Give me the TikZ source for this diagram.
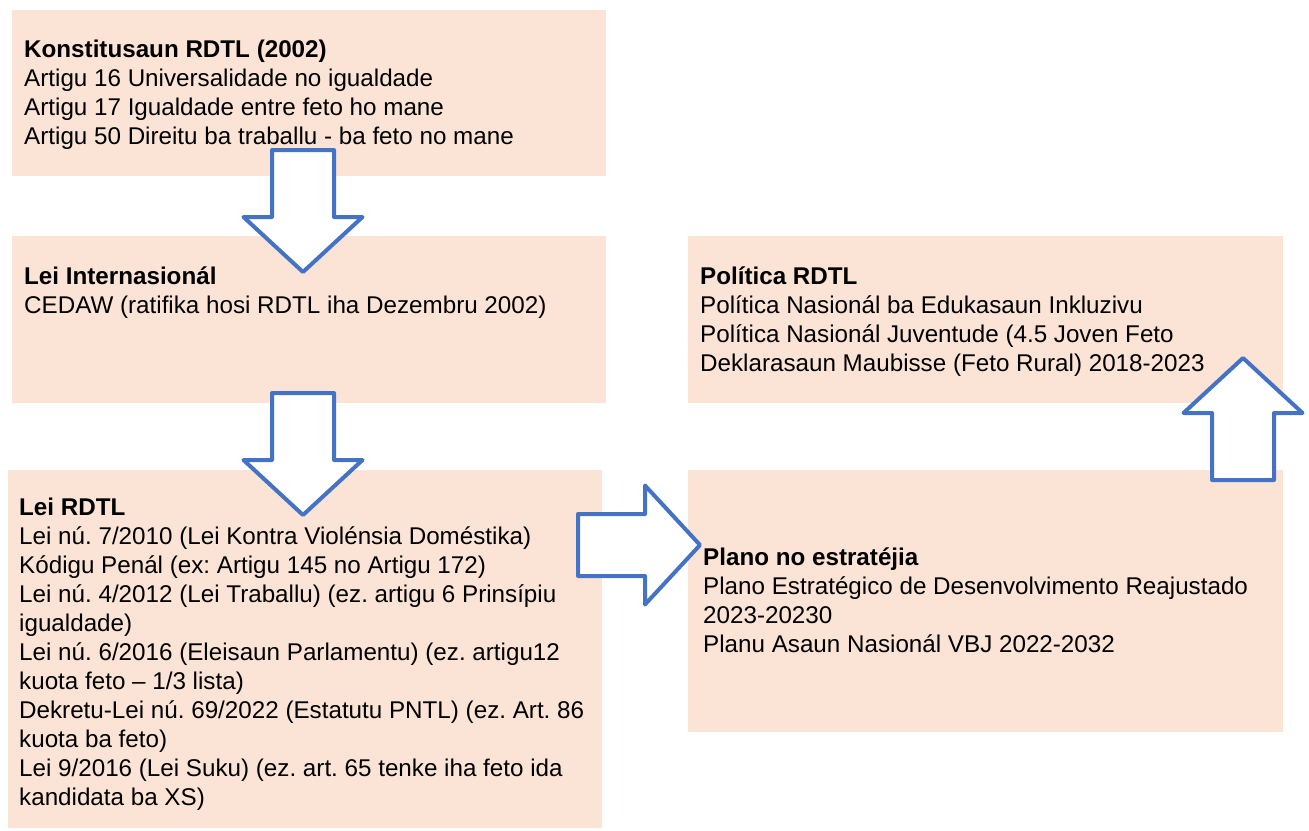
\documentclass[tikz,border=0pt]{standalone}
\usepackage{fontspec}
\setmainfont{Liberation Sans}
\usetikzlibrary{calc}
\definecolor{boxfill}{HTML}{FBE4D5}
\definecolor{arrowblue}{HTML}{4472C4}
\tikzset{
  box/.style={fill=boxfill,inner sep=0pt,anchor=north west},
  boxtext/.style={anchor=north west,inner sep=0pt,align=left,font=\fontsize{24.2}{29}\selectfont},
  arrowline/.style={draw=arrowblue,fill=white,line width=4pt,line join=round},
  barrow/.pic={\path[arrowline](-\kshaft,0)--(-\kshaft,\kneck)--(-\khead,\kneck)--(0,\klen)--(\khead,\kneck)--(\kshaft,\kneck)--(\kshaft,0)--cycle;}
}
\frenchspacing
\begin{document}
\begin{tikzpicture}[x=1pt,y=-1pt]
\pgfmathsetmacro{\kshaft}{31}
\pgfmathsetmacro{\khead}{59.5}
\pgfmathsetmacro{\kneck}{67}
\pgfmathsetmacro{\klen}{122}
\useasboundingbox (0,0) rectangle (1309,830);
% boxes
\node[box,minimum width=594pt,minimum height=166pt](konst) at (12,10){};
\node[box,minimum width=594pt,minimum height=167pt](inter) at (12,236){};
\node[box,minimum width=594pt,minimum height=358pt](leirdtl) at (8,470){};
\node[box,minimum width=595pt,minimum height=167pt](polit) at (688,236){};
\node[box,minimum width=595pt,minimum height=262pt](plano) at (688,470){};
% texts
\node[boxtext](konsttxt) at ($(konst.north west)+(12,30)$){\textbf{Konstitusaun RDTL (2002)}\\
Artigu 16 Universalidade no igualdade\\
Artigu 17 Igualdade entre feto ho mane\\
Artigu 50 Direitu ba traballu - ba feto no mane};
\node[boxtext](intertxt) at ($(inter.north west)+(12,31)$){\textbf{Lei Internasionál}\\
CEDAW (ratifika hosi RDTL iha Dezembru 2002)};
\node[boxtext](leirdtltxt) at ($(leirdtl.north west)+(11,28)$){\textbf{Lei RDTL}\\
Lei nú. 7/2010 (Lei Kontra Violénsia Doméstika)\\
Kódigu Penál (ex: Artigu 145 no Artigu 172)\\
Lei nú. 4/2012 (Lei Traballu) (ez. artigu 6 Prinsípiu\\
igualdade)\\
Lei nú. 6/2016 (Eleisaun Parlamentu) (ez. artigu12\\
kuota feto – 1/3 lista)\\
Dekretu-Lei nú. 69/2022 (Estatutu PNTL) (ez. Art. 86\\
kuota ba feto)\\
Lei 9/2016 (Lei Suku) (ez. art. 65 tenke iha feto ida\\
kandidata ba XS)};
\node[boxtext](polittxt) at ($(polit.north west)+(12,31)$){\textbf{Política RDTL}\\
Política Nasionál ba Edukasaun Inkluzivu\\
Política Nasionál Juventude (4.5 Joven Feto\\
Deklarasaun Maubisse (Feto Rural) 2018-2023};
\node[boxtext](planotxt) at ($(plano.north west)+(15,78)$){\textbf{Plano no estratéjia}\\
Plano Estratégico de Desenvolvimento Reajustado\\
2023-20230\\
Planu Asaun Nasionál VBJ 2022-2032};
% block arrows
\foreach \ax/\ay/\arot in {303/150/0,303/393/0,578/545/90,1243/480/180}{\pic[rotate=\arot] at (\ax,\ay){barrow};}
\end{tikzpicture}
\end{document}
